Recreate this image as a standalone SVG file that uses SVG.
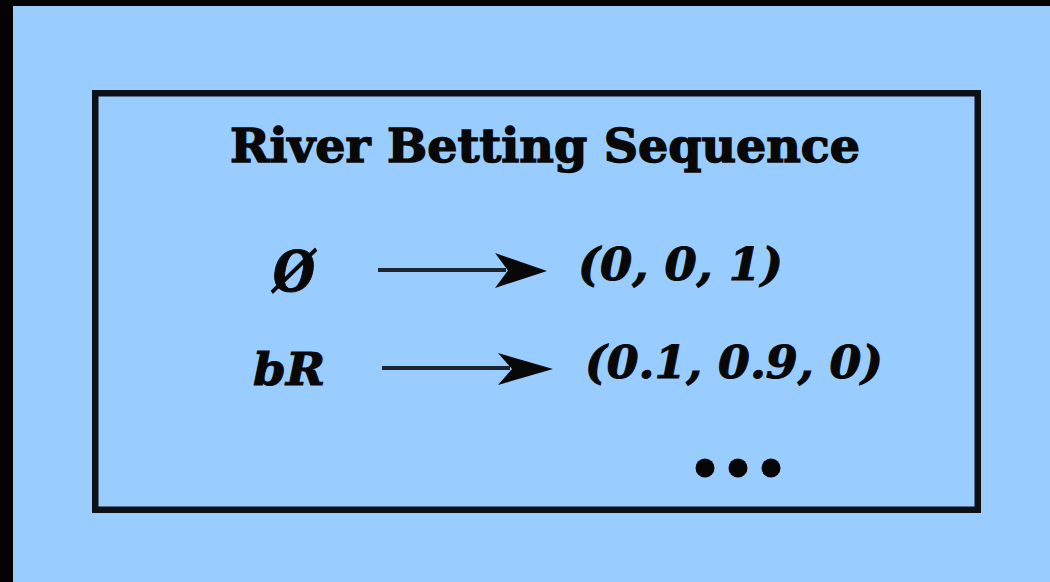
<svg xmlns="http://www.w3.org/2000/svg" width="1050" height="582" viewBox="0 0 1050 582">
<style>
.title{font-family:"DejaVu Serif","Liberation Serif",serif;font-weight:bold;font-size:46px;fill:#080808;stroke:#080808;stroke-width:1.4}
.lbl{font-family:"DejaVu Serif","Liberation Serif",serif;font-weight:bold;font-style:italic;font-size:44px;fill:#080808;stroke:#080808;stroke-width:1}
.conn{stroke:#1e2530;stroke-width:4;fill:none}
.head{fill:#080808}
</style>
<rect x="0" y="0" width="1050" height="582" fill="#99CCFF"/>
<rect x="0" y="0" width="13" height="582" fill="#030303"/>
<rect x="0" y="0" width="1050" height="6" fill="#030303"/>
<g id="frame">
<rect x="95.25" y="93.25" width="882.5" height="416.5" fill="none" stroke="#0d1014" stroke-width="6.5"/>
<text class="title" x="230" y="162" textLength="630" lengthAdjust="spacingAndGlyphs">River Betting Sequence</text>
</g>
<g id="node-empty"><text class="lbl" x="273" y="291" style="font-size:56px" textLength="42" lengthAdjust="spacingAndGlyphs">Ø</text></g>
<g id="node-bR"><text class="lbl" x="253" y="385" textLength="72" lengthAdjust="spacingAndGlyphs">bR</text></g>
<g id="node-t1"><text class="lbl" x="578" y="280" textLength="205" lengthAdjust="spacingAndGlyphs">(0, 0, 1)</text></g>
<g id="node-t2"><text class="lbl" x="585" y="378" textLength="298" lengthAdjust="spacingAndGlyphs">(0.1, 0.9, 0)</text></g>
<g id="node-more">
<circle cx="705" cy="468" r="9.5" fill="#050505"/>
<circle cx="738" cy="468" r="9.5" fill="#050505"/>
<circle cx="771" cy="468" r="9.5" fill="#050505"/>
</g>
<g id="connectors">
<line class="conn" x1="378" y1="270" x2="506" y2="270"/>
<polygon class="head" points="495,253 547,271 495,288 508,270.5"/>
<line class="conn" x1="382" y1="368" x2="510" y2="368"/>
<polygon class="head" points="498,353 553,369 498,385 512,369"/>
</g>
</svg>
